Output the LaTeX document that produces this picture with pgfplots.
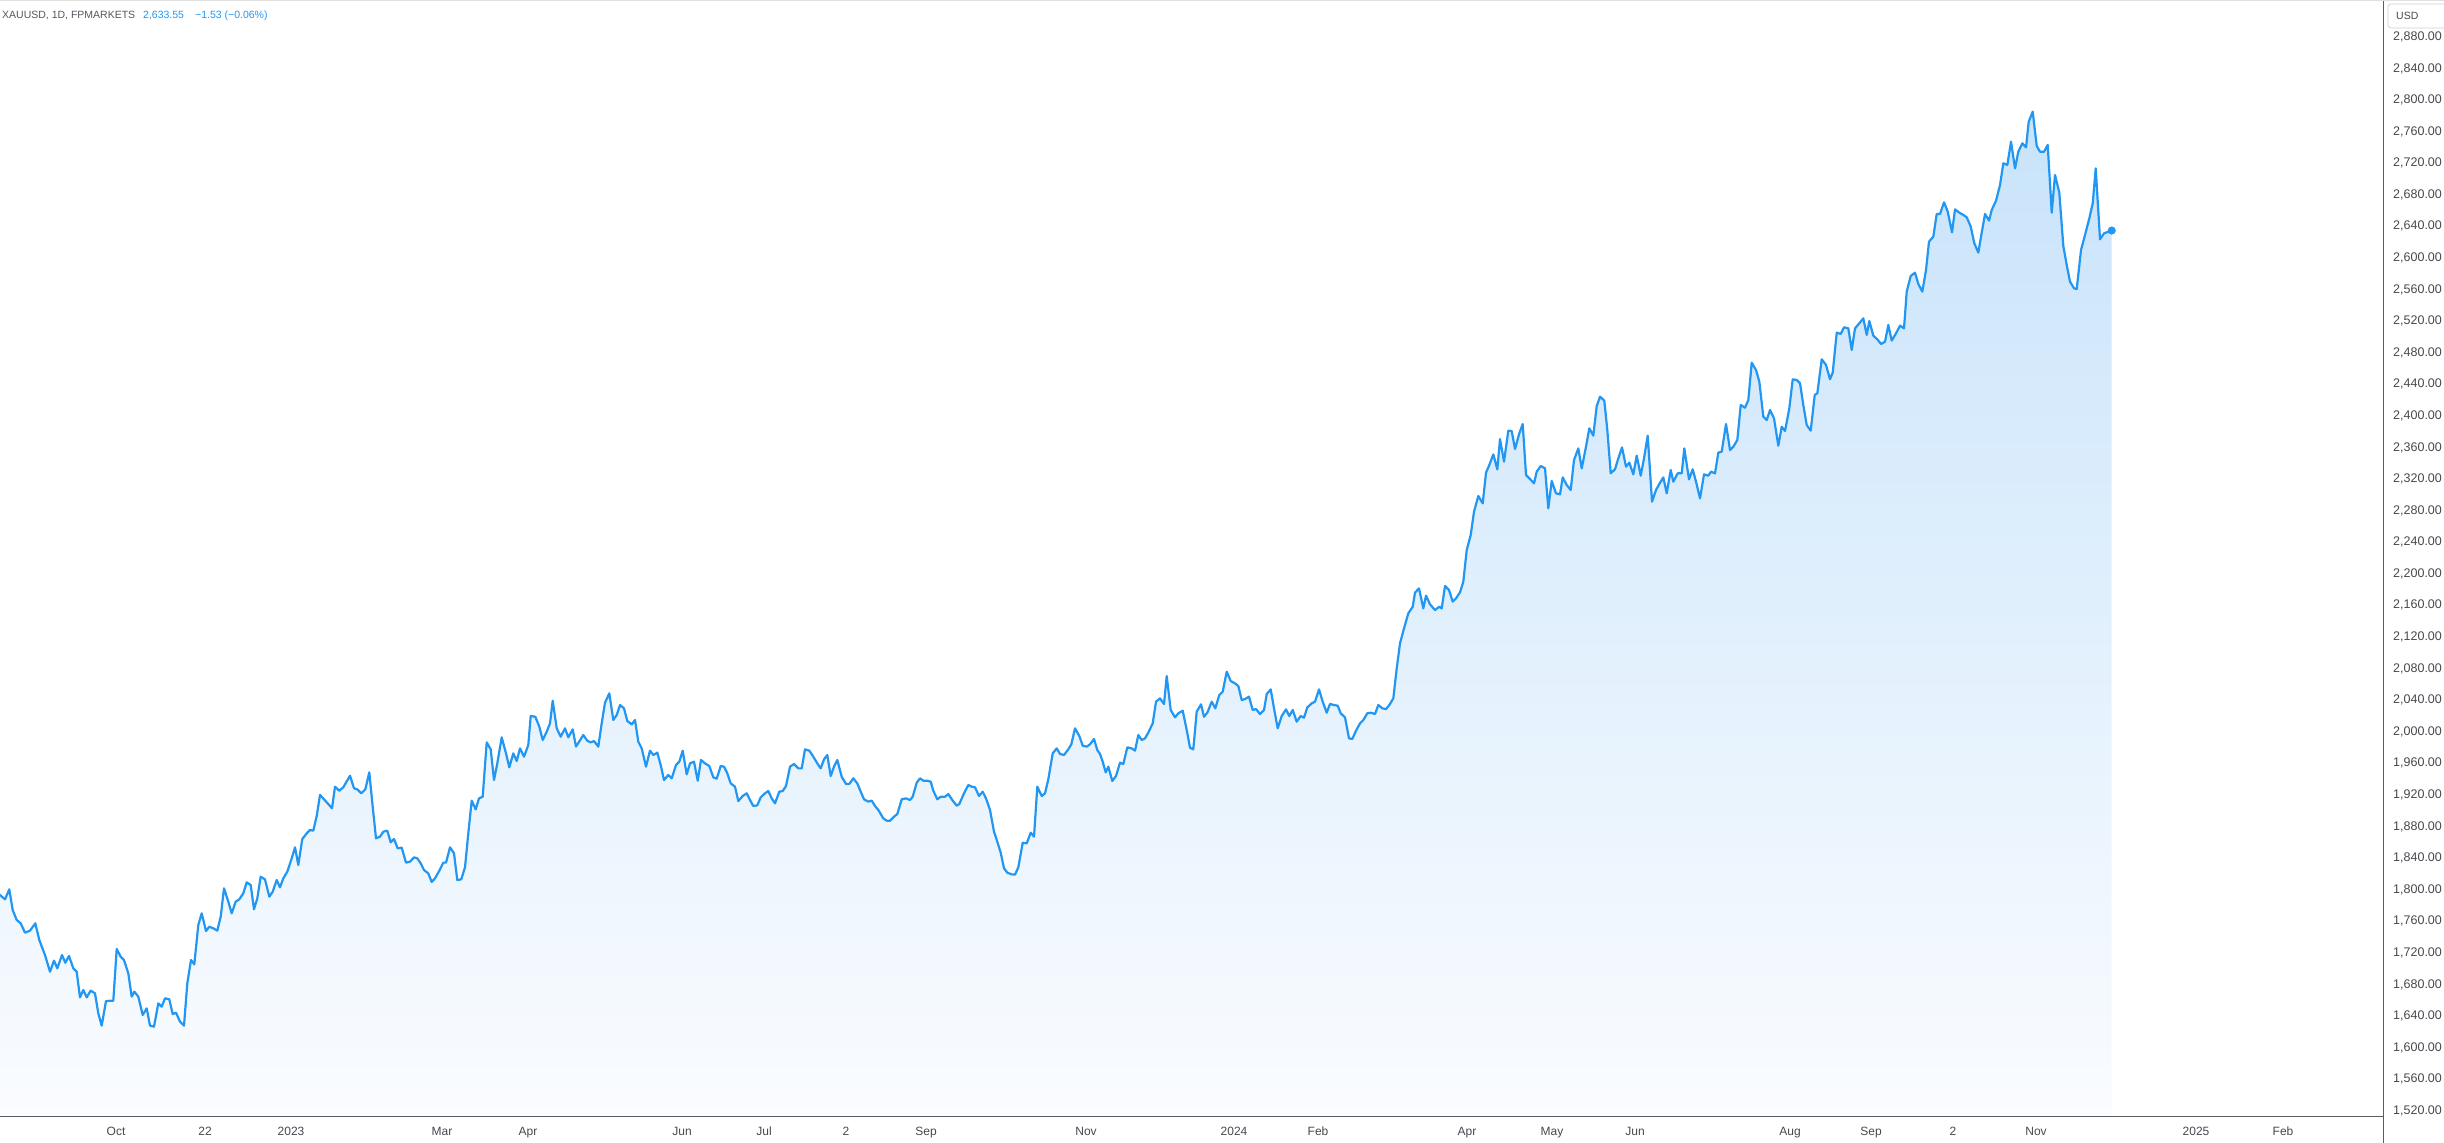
\documentclass[border=0pt]{standalone}
\usepackage{fontspec}
\setmainfont{Liberation Sans}
\usepackage{pgfplots}
\usepackage{pgfplotstable}
\pgfplotsset{compat=1.18}
\definecolor{tvblue}{RGB}{33,150,243}
\definecolor{fillTop}{RGB}{200,227,250}
\definecolor{fillBot}{RGB}{250,252,255}
\definecolor{axisgray}{RGB}{90,92,98}
\definecolor{txtgray}{RGB}{70,72,78}
\definecolor{titlegray}{RGB}{85,87,95}

\pgfplotstableread{
x y
0 1792.1
5 1786.6
9.3 1799.3
12.7 1773.1
16.7 1760.5
20.7 1756.3
25 1744.4
30 1747.0
35.3 1756.3
39.3 1735.1
45 1716.1
50 1695.0
54 1709.0
57.3 1699.3
62 1716.1
65.3 1706.4
69 1714.9
73.3 1699.3
76.7 1695.0
80 1662.5
83.3 1671.8
86.7 1662.5
90.7 1671.0
95 1667.6
98.3 1642.3
101.7 1626.7
106 1657.9
113.3 1658.3
116.7 1723.7
120.7 1714.0
124 1709.8
128.3 1692.9
131.7 1663.4
134.3 1669.7
138.3 1663.4
142.7 1640.2
146.7 1648.6
150 1626.7
154 1625.4
158.3 1654.9
161.7 1650.7
165 1661.3
169.3 1660.0
172.7 1641.4
176 1643.1
180 1631.7
184 1626.7
187.3 1680.3
191 1709.8
194.3 1704.3
198.3 1754.1
201.7 1768.9
206 1746.5
209.3 1752.0
213.3 1749.9
217.3 1747.0
220.7 1764.7
224 1800.6
228.3 1783.7
231.7 1768.9
235.7 1783.7
239.3 1786.6
243.3 1794.2
246.7 1808.2
250.7 1804.8
254 1774.0
257.3 1787.9
260.7 1815.3
265 1811.9
269.3 1790.0
272.7 1796.3
276.7 1811.1
280 1801.8
283.3 1813.2
287.3 1821.7
291.7 1838.5
295 1852.5
298.3 1830.1
302.3 1863.0
306.7 1870.2
310 1874.4
313.3 1873.6
316.7 1892.2
320 1918.8
324 1913.3
328.3 1907.3
332 1901.9
335 1929.3
339.3 1924.2
343.3 1928.5
350 1943.2
354 1927.2
357.3 1925.9
361.3 1920.9
365.3 1925.9
369.3 1947.4
372.7 1904.0
376 1863.9
380 1866.0
383.3 1872.3
387.3 1873.6
390.7 1858.8
394 1863.0
397.7 1851.2
401.7 1852.1
406 1833.1
410 1834.3
414 1839.8
417.3 1838.5
420.7 1832.2
424 1823.8
428.3 1819.5
431.7 1808.6
435 1813.2
439.3 1822.9
443.3 1833.1
446 1833.1
450 1852.5
454 1844.9
457.3 1811.1
461.3 1812.0
465 1827.2
468.3 1870.2
471.7 1911.6
475.7 1900.6
479 1914.5
482.7 1916.6
486.7 1985.4
490.7 1976.6
494 1937.7
497.3 1958.8
501.7 1991.8
506 1971.5
509.3 1953.8
513.3 1971.5
516.7 1961.8
520 1977.8
524 1967.3
528.3 1982.1
530.7 2018.8
535.3 2017.9
539.3 2005.3
542.7 1988.4
546.7 1998.9
550 2009.5
552.7 2038.2
556.7 2003.2
560.7 1992.6
565 2003.2
568.3 1991.8
572.7 2001.9
576 1980.0
583.3 1994.7
587.3 1987.5
590.7 1985.4
594 1987.1
598.3 1980.0
601.7 2009.5
605 2035.7
609.3 2047.5
613.3 2013.7
616.7 2020.1
620 2032.7
624 2028.5
627.3 2012.5
631.7 2008.2
635 2013.7
638.3 1986.3
641.7 1977.8
646 1954.6
650 1974.9
653.3 1969.4
657.3 1972.4
660.7 1956.7
664 1937.7
668.3 1944.1
671.7 1939.9
676 1956.7
679.3 1960.9
682.7 1974.9
686.7 1944.9
690 1958.8
694 1960.9
697.7 1936.9
701 1963.1
705 1958.8
709.3 1955.5
713.3 1941.1
716.7 1939.4
720.7 1955.5
724 1954.6
727.3 1946.2
730.7 1933.5
735 1929.3
738.3 1911.1
742.7 1917.5
746.7 1920.9
750 1912.4
753.3 1904.8
757.3 1905.7
760.7 1915.8
765 1920.9
768.3 1923.8
771.7 1914.5
775 1908.2
779.3 1923.0
782.7 1923.8
786 1930.1
790 1954.6
794 1958.0
798.3 1952.5
801.7 1952.5
805 1976.6
809.3 1974.9
813.3 1967.3
817.3 1958.8
820.7 1952.5
824 1963.9
827.3 1969.4
830.7 1942.8
834 1954.6
837.3 1963.1
841.7 1941.9
846 1932.7
849.3 1932.7
853.3 1939.9
857.3 1933.5
860.7 1923.0
864 1913.3
868.3 1910.3
871.7 1911.6
875 1904.8
878.3 1899.8
883.3 1889.2
886.7 1886.2
890 1886.2
894 1891.3
897.3 1894.7
901.7 1913.3
906 1914.5
910 1912.4
912.7 1916.6
916.7 1934.4
920 1939.9
923.3 1936.9
927.3 1936.9
930.7 1935.6
933.3 1924.2
937.3 1913.3
940.7 1916.6
945 1916.6
948.3 1920.0
952.7 1911.6
956.7 1905.2
959.3 1907.3
964 1920.9
968.3 1931.4
971.7 1929.3
975 1928.5
979 1917.5
982.7 1923.0
986 1914.5
990 1899.8
994 1872.3
997.3 1859.6
1000.7 1845.7
1004 1825.9
1007.3 1820.4
1011.7 1818.3
1015 1817.9
1018.3 1827.1
1022.7 1858.4
1026.7 1857.5
1030.7 1871.0
1034 1866.0
1037.3 1929.3
1041.7 1917.5
1045 1920.9
1048.3 1938.6
1052.7 1971.5
1056.7 1977.8
1060 1970.7
1064 1969.4
1068.3 1976.6
1071.3 1982.9
1075 2003.2
1079.3 1993.5
1082.7 1981.2
1086.7 1980.0
1090 1982.9
1094 1989.7
1097.3 1975.7
1100 1970.7
1102.7 1960.9
1105.7 1947.4
1108.3 1954.6
1112.3 1936.5
1116 1942.8
1120 1959.7
1123.3 1958.0
1127.3 1979.1
1131.7 1977.8
1135 1974.9
1138.3 1994.7
1141.7 1988.4
1145 1990.5
1148.3 1997.7
1152.7 2009.5
1156 2036.9
1160 2041.1
1164 2034.0
1166.7 2069.4
1170.7 2026.4
1175 2017.1
1178.3 2022.2
1182.7 2025.5
1186.7 2001.1
1190 1978.7
1193.3 1976.6
1196.7 2024.3
1201 2033.6
1204 2017.9
1207.3 2023.0
1211.7 2036.9
1215.3 2028.5
1219.3 2045.4
1222.7 2049.6
1226.7 2074.9
1230.7 2063.1
1235 2060.1
1238.3 2056.8
1241.7 2039.0
1245 2040.3
1249 2043.3
1252.7 2026.4
1256 2027.6
1260 2021.3
1264 2026.4
1266.7 2046.6
1270.7 2052.5
1274 2028.5
1277.7 2003.2
1281.7 2018.8
1286 2027.2
1289.3 2018.8
1292.7 2026.4
1296.7 2011.6
1300.7 2018.8
1304 2016.7
1307.3 2029.7
1311.7 2034.8
1315 2036.9
1319 2052.5
1322.7 2036.9
1326.7 2023.0
1330 2034.0
1334 2032.7
1337.7 2031.9
1340.7 2022.2
1345 2017.1
1349 1990.5
1352.3 1989.7
1356 2000.2
1360 2009.5
1363.3 2013.7
1367.3 2022.2
1370.7 2023.0
1375 2021.3
1378.3 2032.7
1382.3 2028.5
1386 2027.6
1389.3 2032.7
1393.3 2041.1
1396.7 2079.1
1400 2110.8
1404 2129.8
1408.3 2148.8
1412.7 2157.2
1415 2175.0
1419 2180.4
1423.3 2155.1
1426 2171.2
1430 2160.2
1435 2153.0
1439.3 2157.2
1441.7 2155.1
1445 2183.4
1449 2178.3
1452.7 2163.6
1456 2167.8
1460 2175.4
1463.3 2188.9
1466.7 2229.0
1470.7 2248.0
1474 2277.5
1478.3 2297.4
1482.7 2288.1
1486 2326.9
1489.3 2336.6
1493.3 2350.1
1497.3 2331.1
1500 2369.5
1504 2340.9
1508.3 2380.1
1511.7 2379.7
1515 2356.9
1519.3 2376.7
1522.7 2388.6
1526 2324.0
1530 2318.9
1534 2313.4
1536.7 2328.2
1540.7 2335.4
1545 2332.4
1548.3 2281.8
1551.7 2316.4
1556 2300.8
1560 2299.5
1562.7 2321.0
1566.7 2311.3
1570.7 2305.0
1574 2343.0
1578.3 2357.7
1581.7 2332.4
1586 2359.8
1589.3 2383.1
1593.3 2373.8
1596.7 2411.3
1600 2423.2
1604.3 2418.1
1607.3 2381.0
1610.7 2326.1
1615 2331.2
1618.3 2345.1
1622 2359.0
1626 2334.5
1629.3 2339.6
1633.3 2324.8
1636.7 2348.5
1640.7 2323.1
1644 2345.1
1647.7 2373.8
1652 2290.2
1656 2305.0
1659.3 2312.6
1663.3 2321.0
1666.7 2300.8
1670.7 2330.3
1673.3 2315.5
1677.7 2326.1
1681.7 2326.1
1684.3 2357.7
1689 2318.5
1692.7 2331.2
1696 2315.5
1700 2294.4
1704 2324.8
1708.3 2323.1
1711 2328.2
1715 2326.1
1718.3 2352.3
1721.7 2353.5
1726 2388.6
1730 2355.6
1733.3 2359.8
1737.3 2368.3
1740.7 2412.6
1745 2409.2
1748.3 2418.9
1751.7 2466.2
1756 2456.9
1759.3 2442.2
1763.3 2397.8
1766.7 2393.6
1770 2406.3
1774 2395.7
1778.3 2361.1
1781.7 2385.2
1785 2379.7
1789.3 2408.4
1792.7 2445.1
1796.7 2444.3
1800 2440.1
1803.3 2412.6
1806.7 2387.3
1810.7 2380.1
1814.7 2425.3
1817.3 2427.4
1821.7 2470.5
1826 2463.3
1830 2445.2
1832.7 2453.6
1836.7 2504.3
1840.7 2502.6
1844 2511.0
1848.3 2509.7
1851.7 2482.3
1855 2509.7
1859.3 2516.1
1863.3 2522.4
1866.7 2501.3
1869.3 2519.0
1873.3 2500.4
1877.3 2495.8
1881 2489.9
1885 2492.8
1888.3 2514.0
1891.7 2494.1
1896 2503.4
1900 2513.1
1904 2509.7
1906.7 2556.2
1910.7 2576.0
1915 2580.2
1918.3 2565.9
1922.3 2556.2
1926 2583.6
1929 2619.5
1933.3 2625.8
1936.7 2654.5
1940 2654.5
1944 2669.3
1947.7 2657.5
1952 2631.3
1955 2660.4
1959.3 2656.2
1963.3 2653.3
1966.7 2650.3
1970.7 2638.5
1974.3 2617.4
1978.3 2605.6
1981.7 2630.9
1985 2654.5
1989 2646.1
1991.7 2659.6
1996 2671.4
2000 2691.2
2003.3 2718.7
2007.3 2716.6
2011 2746.1
2015 2712.3
2018.3 2733.4
2022.3 2744.0
2026 2738.9
2028.7 2771.4
2032.7 2784.1
2036.7 2740.6
2040 2733.4
2044 2733.4
2047.7 2741.9
2051.7 2656.2
2055 2703.9
2059.3 2681.5
2063.3 2614.0
2066.7 2589.9
2070 2568.8
2074 2560.4
2076.7 2559.5
2081 2608.9
2085 2627.9
2089.3 2649.0
2092.7 2668.0
2095.7 2712.3
2100 2622.4
2104 2630.0
2108.3 2632.1
2111.7 2633.55
}\gold

\begin{document}
\begin{tikzpicture}[x=1pt,y=1pt]
\useasboundingbox (0,-26) rectangle (2444,1117);
\begin{axis}[
  at={(0pt,0pt)}, anchor=south west,
  scale only axis, width=2383pt, height=1117pt,
  xmin=0, xmax=2383, ymin=1511, ymax=2925.5,
  axis x line*=bottom, axis y line*=right,
  axis line style={draw=none},
  major tick length=0pt,
  scaled ticks=false,
  xtick={116,205,291,442,528,682,764,846,926,1086,1234,1318,1467,1552,1635,1790,1871,1953,2036,2196,2283},
  xticklabels={Oct,22,2023,Mar,Apr,Jun,Jul,2,Sep,Nov,2024,Feb,Apr,May,Jun,Aug,Sep,2,Nov,2025,Feb},
  ytick={1520,1560,...,2880},
  yticklabel={\pgfmathprintnumber[fixed,fixed zerofill,precision=2,1000 sep={,},assume math mode=true]{\tick}},
  xticklabel style={font=\fontsize{12}{14}\selectfont, text=txtgray, anchor=base, inner sep=0pt, yshift=-18.3pt},
  yticklabel style={font=\fontsize{12.5}{14}\selectfont, text=txtgray, anchor=base west, inner sep=0pt, xshift=10pt, yshift=-4.5pt},
]
\addplot[draw=none, top color=fillTop, bottom color=fillBot] table[x=x,y=y]{\gold} -- (axis cs:2111.7,1511) -- (axis cs:0,1511) -- cycle;
\addplot[tvblue, line width=2.2pt, line join=round, line cap=round] table[x=x,y=y]{\gold};
\addplot[only marks, mark=*, mark size=3.8pt, mark options={fill=tvblue, draw=tvblue}] coordinates {(2111.7,2633.55)};
\end{axis}
\draw[axisgray, line width=1pt] (0,0) -- (2383,0);
\draw[axisgray, line width=1pt] (2383,-26) -- (2383,1117);
\draw[black!12, line width=1pt] (0,1116.5) -- (2444,1116.5);
\draw[rounded corners=3pt, draw=black!18, fill=white, line width=0.8pt] (2388,1113) rectangle (2452,1089);
\node[anchor=base west, inner sep=0pt, font=\fontsize{10.5}{12}\selectfont, text=txtgray] at (2396,1097.2) {USD};
\node[anchor=base west, inner sep=0pt, font=\fontsize{10.5}{12}\selectfont, text=titlegray] at (2,1098.2) {XAUUSD, 1D, FPMARKETS};
\node[anchor=base west, inner sep=0pt, font=\fontsize{10.5}{12}\selectfont, text=tvblue] at (143,1098.2) {2,633.55};
\node[anchor=base west, inner sep=0pt, font=\fontsize{10.5}{12}\selectfont, text=tvblue] at (195,1098.2) {−1.53 (−0.06\%)};
\end{tikzpicture}
\end{document}
